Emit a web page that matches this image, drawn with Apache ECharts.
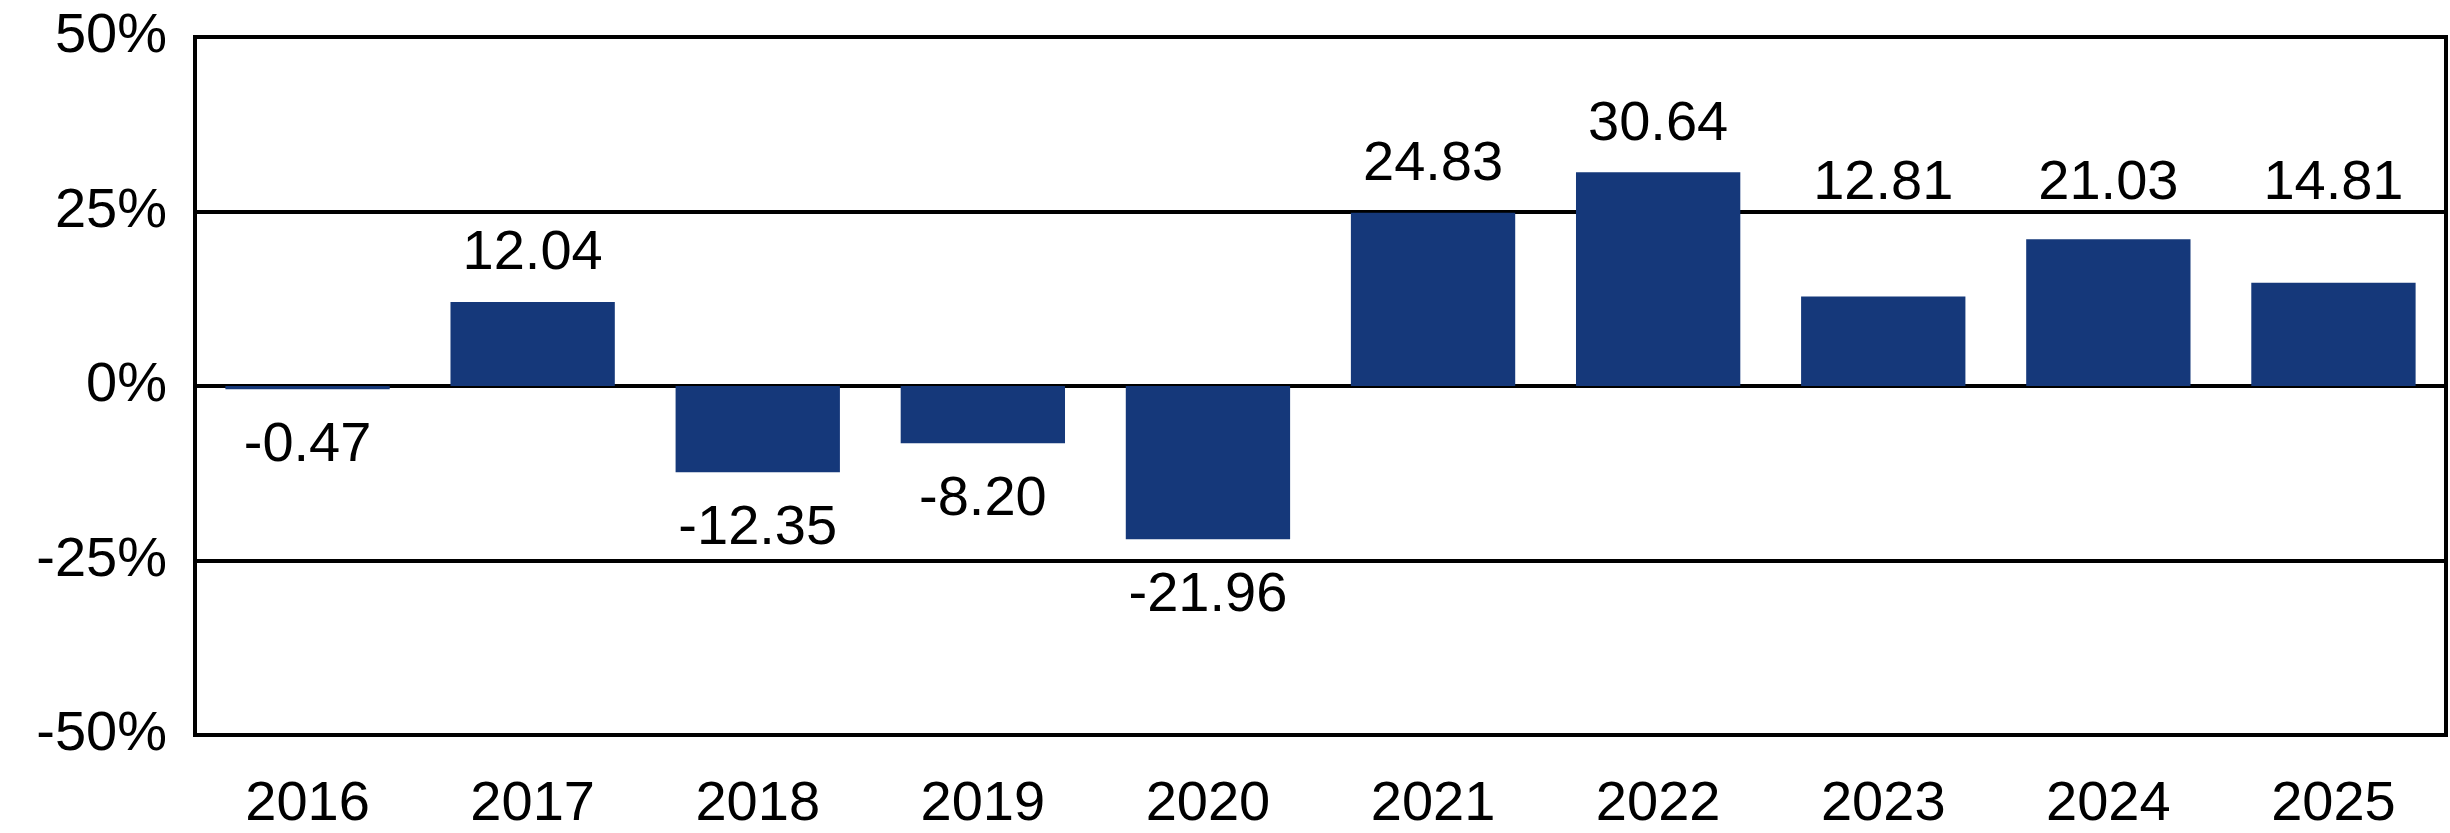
<!DOCTYPE html>
<html><head><meta charset="utf-8">
<script src="https://cdn.jsdelivr.net/npm/echarts@6/dist/echarts.min.js"></script>
<style>html,body{margin:0;padding:0;background:#fff}#c{width:2450px;height:833px}</style>
</head><body><div id="c"></div>
<script>
const categories = ['2016','2017','2018','2019','2020','2021','2022','2023','2024','2025'];
const values = [-0.47, 12.04, -12.35, -8.20, -21.96, 24.83, 30.64, 12.81, 21.03, 14.81];
const yTicks = [-50, -25, 0, 25, 50];
// labels of these bars sit on a common level just above the 25% line
const alignedLabelIdx = [7, 8, 9];
const alignedLabelLevel = 25;

const chart = echarts.init(document.getElementById('c'));
const font = '"Liberation Sans", Arial, Helvetica, sans-serif';
const TOP_DIST = 20, BOTTOM_DIST = 28, ALIGN_GAP = 20;

function seriesData(offsets) {
  return values.map((v, i) => ({
    value: v,
    label: {show: true, position: v < 0 ? 'bottom' : 'top', distance: v < 0 ? BOTTOM_DIST : TOP_DIST,
      offset: [0, offsets ? offsets[i] : 0],
      color: '#000', fontSize: 56, fontFamily: font, formatter: p => p.value.toFixed(2)}
  }));
}

chart.setOption({
  animation: false,
  backgroundColor: '#fff',
  grid: {left: 195, right: 4, top: 37, bottom: 96, show: true, borderColor: '#000', borderWidth: 4, backgroundColor: 'transparent'},
  xAxis: {
    type: 'category', data: categories,
    axisLine: {show: false}, axisTick: {show: false},
    axisLabel: {color: '#000', fontSize: 56, fontFamily: font, margin: 42}
  },
  yAxis: {
    type: 'value', min: yTicks[0], max: yTicks[yTicks.length-1], interval: 25,
    axisLine: {show: false}, axisTick: {show: false},
    splitLine: {show: true, lineStyle: {color: '#000', width: 4}},
    axisLabel: {color: '#000', fontSize: 56, fontFamily: font, margin: 28, formatter: v => v + '%'}
  },
  series: [{
    type: 'bar', barWidth: '73%',
    data: seriesData(null),
    itemStyle: {color: '#15387a'}
  }]
});

const refY = chart.convertToPixel({yAxisIndex: 0}, alignedLabelLevel) + ALIGN_GAP;
const offsets = values.map((v, i) => alignedLabelIdx.includes(i) ? refY - chart.convertToPixel({yAxisIndex: 0}, v) : 0);
chart.setOption({series: [{data: seriesData(offsets)}]});
</script></body></html>
